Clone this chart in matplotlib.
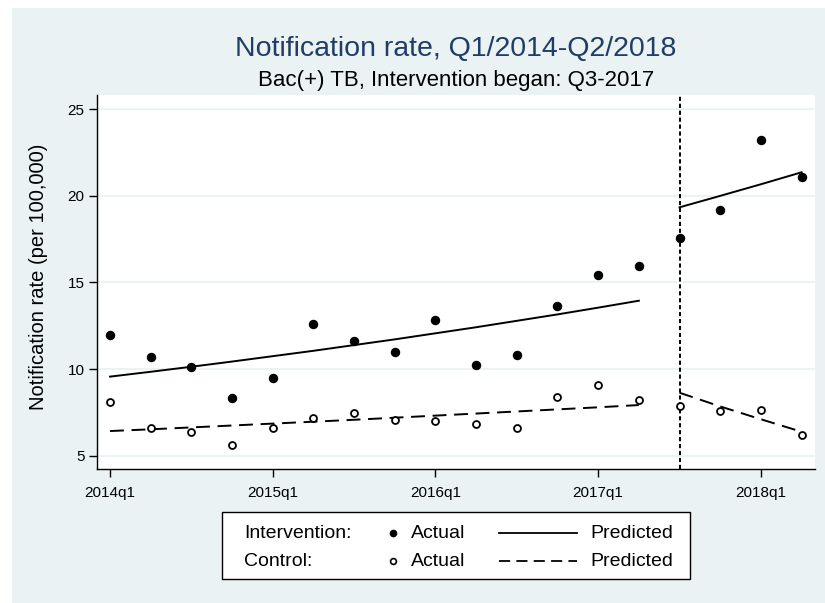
import matplotlib
matplotlib.use("Agg")
import matplotlib.pyplot as plt
from matplotlib.patches import Rectangle
from matplotlib.lines import Line2D

plt.rcParams['font.family'] = ['Liberation Sans', 'DejaVu Sans']
plt.rcParams['lines.scale_dashes'] = False

# ---- data ----
quarters = ["2014q1", "2014q2", "2014q3", "2014q4",
            "2015q1", "2015q2", "2015q3", "2015q4",
            "2016q1", "2016q2", "2016q3", "2016q4",
            "2017q1", "2017q2", "2017q3", "2017q4",
            "2018q1", "2018q2"]
int_actual = [11.98, 10.67, 10.13, 8.31, 9.46, 12.60, 11.62, 10.98, 12.83,
              10.25, 10.83, 13.63, 15.42, 15.96, 17.56, 19.15, 23.21, 21.08]
ctl_actual = [8.12, 6.58, 6.35, 5.62, 6.62, 7.17, 7.44, 7.06, 6.98,
              6.80, 6.62, 8.40, 9.06, 8.21, 7.85, 7.60, 7.63, 6.17]
int_pred_pre = [9.56, 9.84, 10.13, 10.43, 10.74, 11.05, 11.38, 11.71, 12.06,
                12.41, 12.78, 13.15, 13.54, 13.94]
int_pred_post = [19.33, 19.99, 20.66, 21.35]
ctl_pred_pre = [6.42, 6.52, 6.63, 6.74, 6.85, 6.96, 7.07, 7.19, 7.31,
                7.43, 7.55, 7.67, 7.79, 7.92]
ctl_pred_post = [8.63, 7.84, 7.10, 6.38]
intervention_q = "2017q3"
xtick_labels = ["2014q1", "2015q1", "2016q1", "2017q1", "2018q1"]
yticks = [5, 10, 15, 20, 25]

title = "Notification rate, Q1/2014-Q2/2018"
subtitle = "Bac(+) TB, Intervention began: Q3-2017"
ylabel = "Notification rate (per 100,000)"

# ---- figure ----
W, H = 825, 603
BG = '#eaf2f3'
fig = plt.figure(figsize=(W / 100, H / 100), dpi=100, facecolor=BG)
# white margins at top and left
fig.patches.append(Rectangle((0, 1 - 8 / H), 1, 8 / H, transform=fig.transFigure,
                             facecolor='white', edgecolor='none', zorder=-10))
fig.patches.append(Rectangle((0, 0), 12 / W, 1, transform=fig.transFigure,
                             facecolor='white', edgecolor='none', zorder=-10))

L, R, T, B = 97, 815, 95, 469
ax = fig.add_axes([L / W, 1 - B / H, (R - L) / W, (B - T) / H])
ax.set_facecolor('white')

x = list(range(len(quarters)))
iv = quarters.index(intervention_q)
x_pre = x[:len(int_pred_pre)]
x_post = x[iv:iv + len(int_pred_post)]

for yv in yticks:
    ax.axhline(yv, color=BG, lw=1.3, zorder=0)

ax.plot(x_pre, int_pred_pre, color='black', lw=1.4, zorder=3)
ax.plot(x_post, int_pred_post, color='black', lw=1.4, zorder=3)
ax.plot(x_pre, ctl_pred_pre, color='black', lw=1.4, dashes=(10, 5.5), zorder=3)
ax.plot(x_post, ctl_pred_post, color='black', lw=1.4, dashes=(10, 5.5), zorder=3)
ax.axvline(iv, color='black', lw=1.4, dashes=(3.0, 2.0), zorder=2)

ax.plot(x, int_actual, 'o', color='black', ms=5.8, zorder=4)
ax.plot(x, ctl_actual, 'o', mfc='white', mec='black', mew=1.3, ms=5.0, zorder=4)

ax.set_xlim(-0.32, 17.33)
ax.set_ylim(4.23, 25.81)
ax.set_xticks([quarters.index(q) for q in xtick_labels])
ax.set_xticklabels(xtick_labels)
ax.set_yticks(yticks)
ax.set_yticklabels([str(v) for v in yticks])
ax.tick_params(axis='both', length=6, width=1.0, labelsize=11, color='black')
ax.tick_params(axis='y', pad=3)
ax.tick_params(axis='x', pad=6)
for s in ['top', 'right']:
    ax.spines[s].set_visible(False)
for s in ['left', 'bottom']:
    ax.spines[s].set_linewidth(1.0)

ax.set_ylabel(ylabel, fontsize=14.5)
ax.yaxis.set_label_coords((48 - L) / (R - L), (B - 277) / (B - T))

cx = (L + R) / 2 / W
fig.text(cx, 1 - 56 / H, title, ha='center', va='baseline', fontsize=20.5, color='#1f3d66')
fig.text(cx, 1 - 86 / H, subtitle, ha='center', va='baseline', fontsize=16, color='black')

# ---- legend ----
fx = lambda px: px / W
fy = lambda py: 1 - py / H
fig.patches.append(Rectangle((fx(222), fy(579)), fx(690) - fx(222), fy(512) - fy(579),
                             transform=fig.transFigure, facecolor='white',
                             edgecolor='black', lw=1.0, zorder=5))
rows = [(533, "Intervention:", dict(marker='o', color='black', ms=4.5, ls='none'),
         dict(color='black', lw=1.3)),
        (561, "Control:", dict(marker='o', mfc='white', mec='black', mew=1.2, ms=4.2, ls='none'),
         dict(color='black', lw=1.3, dashes=(8, 4.5)))]
for yy, lab, mk, ln in rows:
    fig.text(fx(244), fy(yy), lab, ha='left', va='center', fontsize=14, zorder=6)
    fig.lines.append(Line2D([fx(393)], [fy(yy)], transform=fig.transFigure, zorder=6, **mk))
    fig.text(fx(411), fy(yy), "Actual", ha='left', va='center', fontsize=14, zorder=6)
    fig.lines.append(Line2D([fx(499), fx(577)], [fy(yy), fy(yy)], transform=fig.transFigure,
                            zorder=6, **ln))
    fig.text(fx(590), fy(yy), "Predicted", ha='left', va='center', fontsize=14, zorder=6)

fig.savefig("out.png", dpi=100, facecolor=BG)
